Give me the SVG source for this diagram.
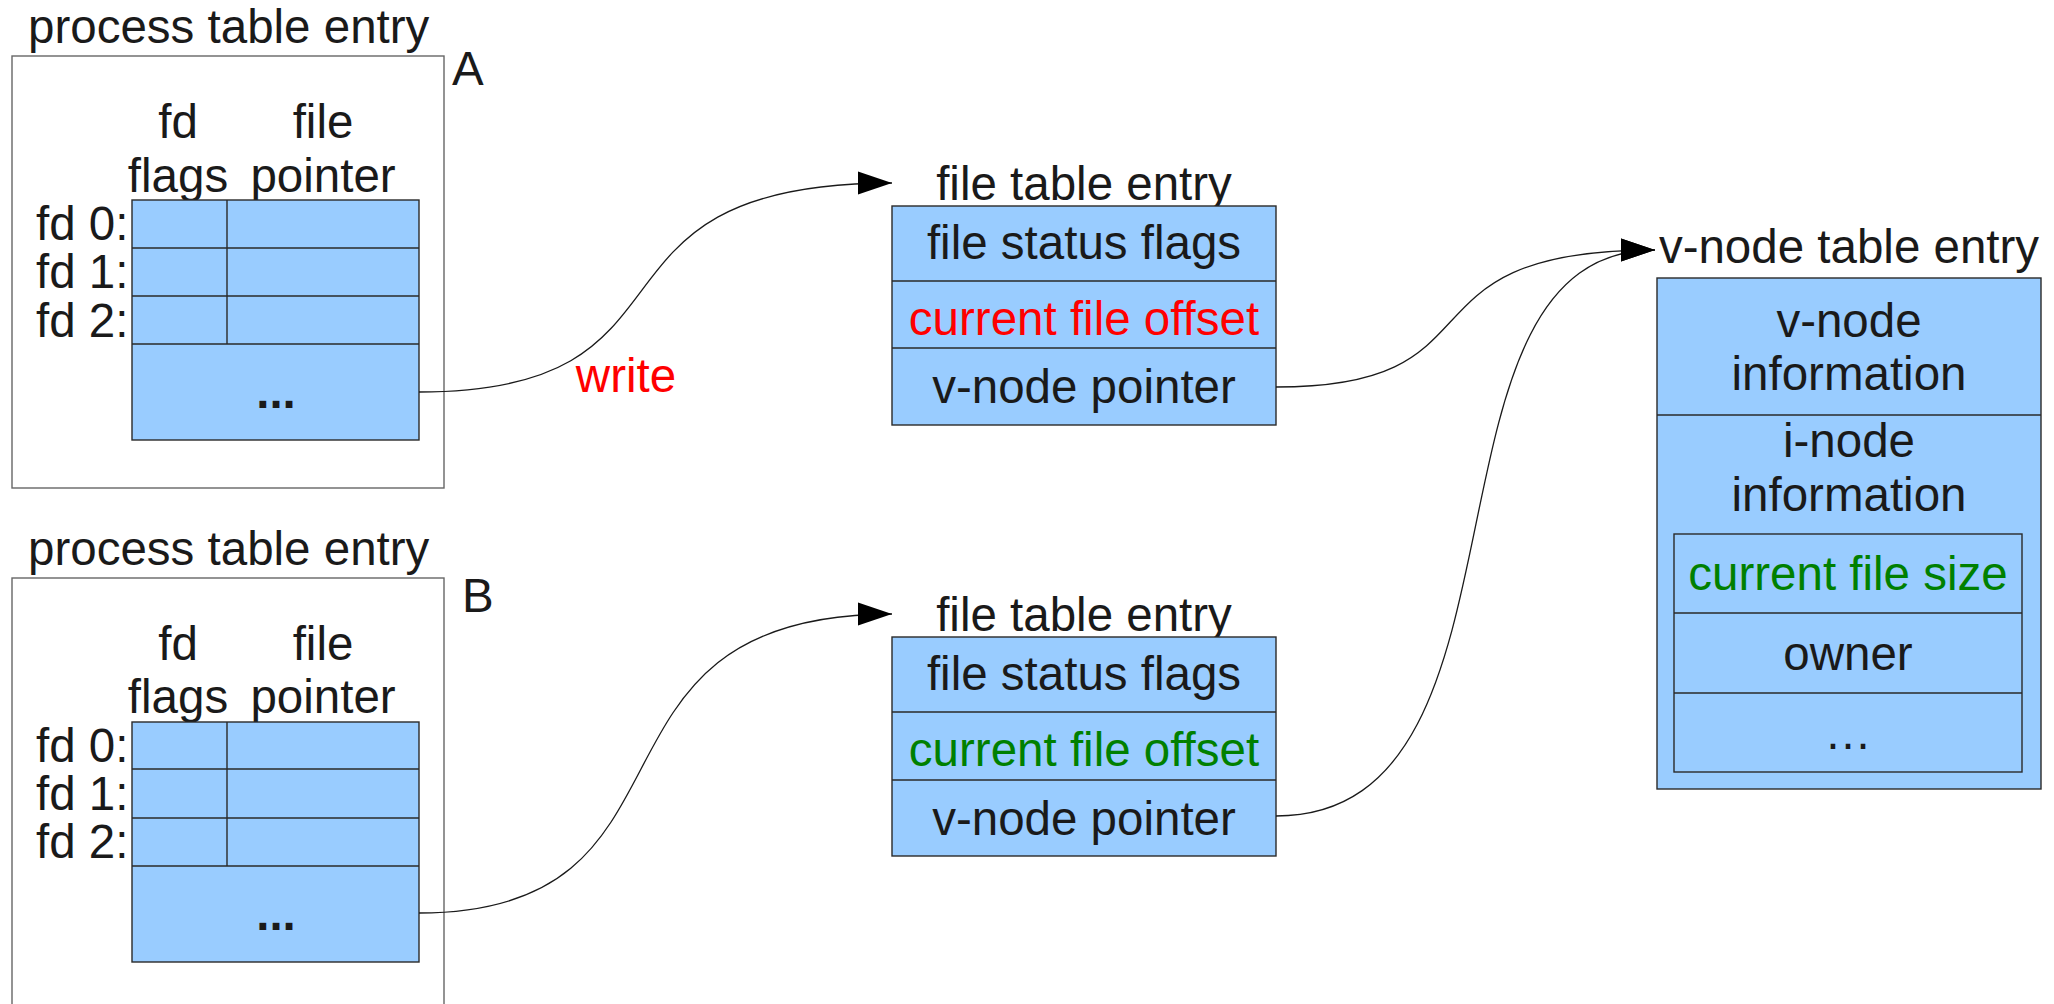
<svg xmlns="http://www.w3.org/2000/svg" width="2054" height="1004" viewBox="0 0 2054 1004">
  <style>
    text { font-family: "Liberation Sans", Arial, sans-serif; font-size: 47.5px; fill: #1a1a1a; }
    .c { text-anchor: middle; }
    .red { fill: #ff0000; }
    .green { fill: #008000; }
    .bold { font-weight: bold; }
    .frame { fill: #ffffff; stroke: #666666; stroke-width: 1.4; }
    .cell { fill: #99ccff; stroke: #2a2a2a; stroke-width: 1.4; }
    .rule { stroke: #2a2a2a; stroke-width: 1.4; fill: none; }
    .wire { fill: none; stroke: #1a1a1a; stroke-width: 1.3; }
  </style>
  <defs>
    <marker id="head" markerUnits="userSpaceOnUse" markerWidth="34" markerHeight="24" refX="34" refY="11.5" orient="auto" viewBox="0 0 34 23">
      <path d="M0,0 L34,11.5 L0,23 Z" fill="#000000"/>
    </marker>
  </defs>

  <rect width="2054" height="1004" fill="#ffffff"/>

  <!-- process table entry A -->
  <g id="process-a">
    <text x="28" y="43">process table entry</text>
    <rect class="frame" x="12" y="56" width="432" height="432"/>
    <text x="452" y="85">A</text>
    <text class="c" x="178" y="138">fd</text>
    <text class="c" x="178" y="192">flags</text>
    <text class="c" x="323" y="138">file</text>
    <text class="c" x="323" y="192">pointer</text>
    <rect class="cell" x="132" y="200" width="287" height="240"/>
    <path class="rule" d="M132,248 H419 M132,296 H419 M132,344 H419 M227,200 V344"/>
    <text x="36" y="240">fd 0:</text>
    <text x="36" y="288">fd 1:</text>
    <text x="36" y="337">fd 2:</text>
    <text class="c bold" x="276" y="408">...</text>
  </g>

  <!-- process table entry B -->
  <g id="process-b">
    <text x="28" y="565">process table entry</text>
    <rect class="frame" x="12" y="578" width="432" height="440"/>
    <text x="462" y="612">B</text>
    <text class="c" x="178" y="660">fd</text>
    <text class="c" x="178" y="713">flags</text>
    <text class="c" x="323" y="660">file</text>
    <text class="c" x="323" y="713">pointer</text>
    <rect class="cell" x="132" y="722" width="287" height="240"/>
    <path class="rule" d="M132,769 H419 M132,818 H419 M132,866 H419 M227,722 V866"/>
    <text x="36" y="762">fd 0:</text>
    <text x="36" y="810">fd 1:</text>
    <text x="36" y="858">fd 2:</text>
    <text class="c bold" x="276" y="930">...</text>
  </g>

  <!-- file table entry for A -->
  <g id="file-a">
    <text class="c" x="1084" y="200">file table entry</text>
    <rect class="cell" x="892" y="206" width="384" height="219"/>
    <path class="rule" d="M892,281 H1276 M892,348 H1276"/>
    <text class="c" x="1084" y="259">file status flags</text>
    <text class="c red" x="1084" y="335">current file offset</text>
    <text class="c" x="1084" y="403">v-node pointer</text>
  </g>

  <!-- file table entry for B -->
  <g id="file-b">
    <text class="c" x="1084" y="631">file table entry</text>
    <rect class="cell" x="892" y="637" width="384" height="219"/>
    <path class="rule" d="M892,712 H1276 M892,780 H1276"/>
    <text class="c" x="1084" y="690">file status flags</text>
    <text class="c green" x="1084" y="766">current file offset</text>
    <text class="c" x="1084" y="835">v-node pointer</text>
  </g>

  <!-- shared v-node table entry -->
  <g id="vnode">
    <text class="c" x="1849" y="263">v-node table entry</text>
    <rect class="cell" x="1657" y="278" width="384" height="511"/>
    <path class="rule" d="M1657,415 H2041"/>
    <text class="c" x="1849" y="337">v-node</text>
    <text class="c" x="1849" y="390">information</text>
    <text class="c" x="1849" y="457">i-node</text>
    <text class="c" x="1849" y="511">information</text>
    <rect class="cell" x="1674" y="534" width="348" height="238"/>
    <path class="rule" d="M1674,613 H2022 M1674,693 H2022"/>
    <text class="c green" x="1848" y="590">current file size</text>
    <text class="c" x="1848" y="670">owner</text>
    <text class="c" x="1848" y="749">…</text>
  </g>

  <!-- pointers between the tables -->
  <g id="connectors">
    <path class="wire" d="M419,392 C720,392 560,183 892,183" marker-end="url(#head)"/>
    <path class="wire" d="M419,913 C720,913 560,614 892,614" marker-end="url(#head)"/>
    <path class="wire" d="M1276,387 C1512,387 1387,250 1655,250" marker-end="url(#head)"/>
    <path class="wire" d="M1276,816 C1550,816 1404,250 1655,250" marker-end="url(#head)"/>
    <text class="c red" x="626" y="392">write</text>
  </g>
</svg>
